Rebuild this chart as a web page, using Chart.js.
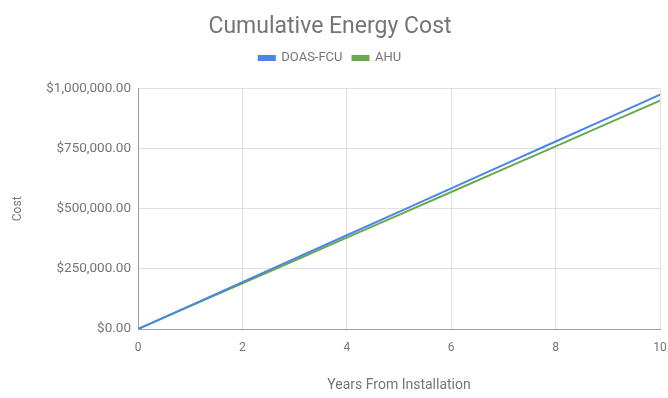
<!DOCTYPE html>
<html>
<head>
<meta charset="utf-8">
<script src="https://cdn.jsdelivr.net/npm/chart.js@4"></script>
<style>
  html, body { margin: 0; padding: 0; background: #fff; }
  #wrap { width: 668px; height: 398px; }
</style>
</head>
<body>
<div id="wrap"><canvas id="costChart" width="668" height="398"></canvas></div>
<script>
var years = [0, 1, 2, 3, 4, 5, 6, 7, 8, 9, 10];
var doasFcu = [0, 97500, 195000, 292500, 390000, 487500, 585000, 682500, 780000, 877500, 975000];
var ahu = [0, 95000, 190000, 285000, 380000, 475000, 570000, 665000, 760000, 855000, 950000];
var yTicks = [0, 250000, 500000, 750000, 1000000];

function toPoints(xs, ys) {
    return xs.map(function (x, i) { return { x: x, y: ys[i] }; });
}

function money(v) {
    return '$' + Number(v).toLocaleString('en-US', { minimumFractionDigits: 2, maximumFractionDigits: 2 });
}

// extra room under the legend, like the sheets chart
var legendGap = {
    id: 'legendGap',
    beforeInit: function (chart) {
        var fit = chart.legend.fit;
        chart.legend.fit = function () {
            fit.call(this);
            this.height += 14;
        };
    }
};

Chart.defaults.font.family = 'Roboto, sans-serif';
Chart.defaults.color = '#757575';

var ctx = document.getElementById('costChart').getContext('2d');
var chart = new Chart(ctx, {
    type: 'line',
    data: {
        datasets: [{
            label: 'DOAS-FCU',
            data: toPoints(years, doasFcu),
            borderColor: '#4a86e8',
            backgroundColor: '#4a86e8',
            borderWidth: 2,
            pointRadius: 0,
            fill: false
        },
        {
            label: 'AHU',
            data: toPoints(years, ahu),
            borderColor: '#6aa84f',
            backgroundColor: '#6aa84f',
            borderWidth: 2,
            pointRadius: 0,
            fill: false
        }]
    },
    options: {
        responsive: false,
        animation: false,
        layout: { padding: { left: 0, right: 8, top: 11, bottom: 0 } },
        plugins: {
            title: {
                display: true,
                text: 'Cumulative Energy Cost',
                color: '#757575',
                font: { size: 23, weight: 'normal' },
                padding: { top: 2, bottom: 1 }
            },
            legend: {
                labels: {
                    boxWidth: 16,
                    boxHeight: 4,
                    font: { size: 13 },
                    color: '#757575',
                    padding: 10
                }
            },
            tooltip: { enabled: false }
        },
        scales: {
            x: {
                type: 'linear',
                min: 0,
                max: 10,
                ticks: { stepSize: 2, font: { size: 12 }, padding: 12 },
                grid: { color: '#e0e0e0', drawTicks: false },
                border: { color: '#9e9e9e', width: 1 },
                title: { display: true, text: 'Years From Installation', font: { size: 14 }, padding: { top: 18, bottom: 4 } },
                afterFit: function (scale) {
                    scale.height = 69;
                    scale.paddingLeft = 0;
                    scale.paddingRight = 0;
                }
            },
            y: {
                min: 0,
                max: 1000000,
                afterBuildTicks: function (scale) {
                    scale.ticks = yTicks.map(function (v) { return { value: v }; });
                },
                ticks: { callback: money, font: { size: 13.5 }, padding: 7 },
                grid: { color: '#e0e0e0', drawTicks: false },
                border: { color: '#9e9e9e', width: 1 },
                title: { display: true, text: 'Cost', font: { size: 12 }, padding: { top: 11, bottom: 0 } },
                afterFit: function (scale) { scale.width = 138; }
            }
        }
    },
    plugins: [legendGap]
});
</script>
</body>
</html>
